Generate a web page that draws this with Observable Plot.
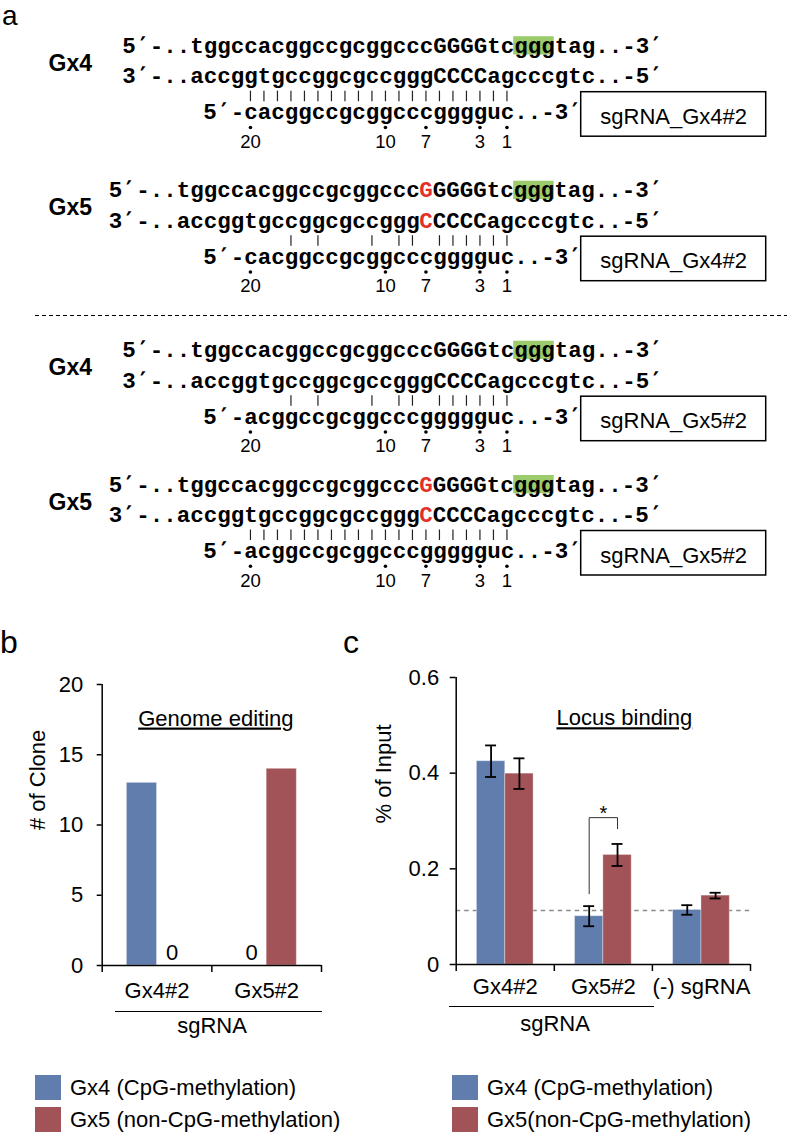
<!DOCTYPE html>
<html>
<head>
<meta charset="utf-8">
<script src="https://cdn.jsdelivr.net/npm/d3@7"></script>
<script src="https://cdn.jsdelivr.net/npm/@observablehq/plot@0.6"></script>
<style>
  @font-face { font-family: "SeqPrime"; font-weight: bold;
               src: local("DejaVu Sans Mono Bold"), local("DejaVuSansMono-Bold"); unicode-range: U+2032; }
  @font-face { font-family: "SeqPrime"; font-weight: normal;
               src: local("DejaVu Sans Mono"), local("DejaVuSansMono"); unicode-range: U+2032; }
  html, body { margin: 0; padding: 0; background: #fff; }
  #fig { position: relative; width: 787px; height: 1136px; overflow: hidden;
         font-family: "Liberation Sans", Arial, sans-serif; color: #000; background: #fff; }
  .abs { position: absolute; }
  .t { position: absolute; line-height: 0; white-space: nowrap; }
  .sw { position: absolute; width: 26px; height: 25px; }
  .hline { position: absolute; height: 0; border-top: 1.5px solid #000; }
</style>
</head>
<body>
<div id="fig"></div>
<script>
// ---------------- DATA ----------------
// Panel a: sequences
const targetNames = ["Gx4", "Gx5"];
const targetTop = ["5′-..tggccacggccgcggcccGGGGtcgggtag..-3′",
                   "5′-..tggccacggccgcggcccGGGGGtcgggtag..-3′"];
const targetBottom = ["3′-..accggtgccggcgccgggCCCCagcccgtc..-5′",
                      "3′-..accggtgccggcgccgggCCCCCagcccgtc..-5′"];
const variantIndex = [null, 23];          // red (variant) base in each target
const pamSeq = "ggg";
const sgNames = ["sgRNA_Gx4#2", "sgRNA_Gx5#2"];
const sgSeqs = ["cacggccgcggcccgggguc", "acggccgcggcccggggguc"];
const sgPositions = [20, 10, 7, 3, 1];
const panelAPairs = [[0, 0], [1, 0], [0, 1], [1, 1]]; // [target, sgRNA]

// Panel b: genome editing
const editGroups = ["Gx4#2", "Gx5#2"];
const editGx4 = [13, 0];
const editGx5 = [0, 14];

// Panel c: locus binding
const bindGroups = ["Gx4#2", "Gx5#2", "(-) sgRNA"];
const bindGx4 = [0.425, 0.101, 0.114];
const bindGx4Err = [0.033, 0.021, 0.010];
const bindGx5 = [0.399, 0.229, 0.144];
const bindGx5Err = [0.032, 0.023, 0.006];
const bindBackground = 0.113;
const sigGroup = 1;
const sigBracket = {top: 0.307, leftFrom: 0.148, rightFrom: 0.284, star: 0.316};

const seriesLegendB = ["Gx4 (CpG-methylation)", "Gx5 (non-CpG-methylation)"];
const seriesLegendC = ["Gx4 (CpG-methylation)", "Gx5(non-CpG-methylation)"];

// ---------------- STYLE / LAYOUT ----------------
const C_BLUE = "#607dae", C_RED = "#a15357", C_GREEN = "#9ccb6c", C_VAR = "#e2312a";
const SANS = "Liberation Sans, Arial, Helvetica, sans-serif";
const MONO = "SeqPrime, Liberation Mono, Courier New, monospace";
const X0 = 121.7, CH = 13.5, pamCol = 29;
const blockTop = [52.2, 196.7, 356.7, 491];
const L = {bottom: 30.5, sg: 66.3, bar1: 38.5, bar2: 49, dot: 74.8, num: 95, label: 18,
           box1: 39.5, box2: 84, boxText: 71, hl1: -16, hl2: 2.3};
const boxRightPx = 765.7, labelLeftPx = 48, dividerY = 315, dividerLeftPx = 35;
const H_A = 612;
const col = p => (p - X0) / CH;

const fig = document.getElementById("fig");

// ---------------- PANEL A ----------------
const segs = [], redSegs = [], hl = [], bars = [], dots = [], nums = [], labels = [], boxes = [];
panelAPairs.forEach(([t, s], b) => {
  const base = blockTop[b];
  const start = pamCol - targetTop[t].indexOf(pamSeq);
  [[targetTop[t], base], [targetBottom[t], base + L.bottom]].forEach(([str, y]) => {
    const vi = variantIndex[t];
    if (vi == null) segs.push({text: str, c: start, y});
    else {
      segs.push({text: str.slice(0, vi), c: start, y});
      redSegs.push({text: str[vi], c: start + vi, y});
      segs.push({text: str.slice(vi + 1), c: start + vi + 1, y});
    }
  });
  hl.push({c: pamCol, y: base});
  const sg = sgSeqs[s];
  const sgLine = "5′-" + sg + "..-3′";
  const sgStart = pamCol - sg.length - 3;
  segs.push({text: sgLine, c: sgStart, y: base + L.sg});
  for (let k = 0; k < sg.length; k++) {
    const c = pamCol - sg.length + k;
    const tc = targetTop[t][c - start].toLowerCase();
    const sc = sg[k].replace("u", "t");
    if (tc === sc) bars.push({c, y: base});
  }
  sgPositions.forEach(p => {
    dots.push({c: pamCol - p, y: base});
    nums.push({c: pamCol - p, y: base, text: String(p)});
  });
  labels.push({text: targetNames[t], y: base});
  boxes.push({text: sgNames[s], y: base, c1: sgStart + sgLine.length, c2: col(boxRightPx)});
});

const plotA = Plot.plot({
  width: 787, height: H_A, margin: 0,
  x: {domain: [col(0), col(787)], range: [0, 787], axis: null},
  y: {domain: [0, H_A], range: [0, H_A], axis: null},
  style: {fontFamily: SANS, background: "transparent", overflow: "visible"},
  marks: [
    Plot.rect(hl, {x1: "c", x2: d => d.c + pamSeq.length, y1: d => d.y + L.hl1, y2: d => d.y + L.hl2, fill: C_GREEN}),
    Plot.text(segs, {x: "c", y: "y", text: "text", textAnchor: "start", lineAnchor: "bottom",
                     fontFamily: MONO, fontWeight: "bold", fontSize: 22.5, fill: "black"}),
    Plot.text(redSegs, {x: "c", y: "y", text: "text", textAnchor: "start", lineAnchor: "bottom",
                        fontFamily: MONO, fontWeight: "bold", fontSize: 22.5, fill: C_VAR}),
    Plot.ruleX(bars, {x: d => d.c + 0.5, y1: d => d.y + L.bar1, y2: d => d.y + L.bar2, stroke: "#222", strokeWidth: 1.2}),
    Plot.dot(dots, {x: d => d.c + 0.5, y: d => d.y + L.dot, r: 1.8, fill: "black", stroke: null}),
    Plot.text(nums, {x: d => d.c + 0.5, y: d => d.y + L.num, text: "text", lineAnchor: "bottom", fontSize: 18.5, fontFamily: SANS}),
    Plot.text(labels, {x: col(labelLeftPx), y: d => d.y + L.label, text: "text", textAnchor: "start", lineAnchor: "bottom",
                       fontSize: 23, fontWeight: "bold", fontFamily: SANS}),
    Plot.rect(boxes, {x1: "c1", x2: "c2", y1: d => d.y + L.box1, y2: d => d.y + L.box2, fill: "none", stroke: "black", strokeWidth: 1.5}),
    Plot.text(boxes, {x: d => (d.c1 + d.c2) / 2, y: d => d.y + L.boxText, text: "text", lineAnchor: "bottom", fontSize: 22, fontFamily: SANS}),
    Plot.ruleY([dividerY], {x1: col(dividerLeftPx), x2: col(787), stroke: "black", strokeWidth: 1.2, strokeDasharray: "4,3"})
  ]
});
const divA = document.createElement("div");
divA.className = "abs"; divA.style.left = "0px"; divA.style.top = "0px";
divA.appendChild(plotA); fig.appendChild(divA);

// ---------------- PANEL B ----------------
const bwB = 0.275;
const editData = [];
editGroups.forEach((g, i) => {
  editData.push({g: i, s: 0, v: editGx4[i]});
  editData.push({g: i, s: 1, v: editGx5[i]});
});
const x1B = d => d.g + 0.5 + (d.s === 0 ? -bwB : 0);
const axisStyle = {fontFamily: SANS, fontSize: "22px", background: "transparent", overflow: "visible", color: "black"};

const plotB = Plot.plot({
  width: 370, height: 385, marginLeft: 101.7, marginRight: 49, marginTop: 64, marginBottom: 40,
  x: {domain: [0, editGroups.length], axis: null},
  y: {domain: [0, 20], axis: null},
  color: {type: "ordinal", domain: [0, 1], range: [C_BLUE, C_RED]},
  style: axisStyle,
  marks: [
    Plot.rect(editData.filter(d => d.v > 0), {x1: x1B, x2: d => x1B(d) + bwB, y1: 0, y2: "v", fill: "s",
                                               stroke: "white", strokeOpacity: 0.35, strokeWidth: 1}),
    Plot.text(editData.filter(d => d.v === 0), {x: d => x1B(d) + bwB / 2, y: 0, dy: -13, text: d => String(d.v), lineAnchor: "middle"}),
    Plot.ruleX([0], {strokeWidth: 1.5}),
    Plot.ruleY([0], {strokeWidth: 1.5}),
    Plot.axisY({ticks: [0, 5, 10, 15, 20], tickSize: 5, tickPadding: 14, strokeWidth: 1.5, tickFormat: d => String(d), label: null}),
    Plot.axisX({ticks: d3.range(editGroups.length + 1), tickSize: 7, tickFormat: () => "", strokeWidth: 1.5, label: null}),
    Plot.text(editGroups, {x: (d, i) => i + 0.5, y: 0, dy: 25, lineAnchor: "middle"}),
    Plot.text(["Genome editing"], {frameAnchor: "top", dx: 4, dy: 34, lineAnchor: "middle"}),
    Plot.text(["# of Clone"], {frameAnchor: "left", rotate: -90, dx: -64.7, dy: 5, lineAnchor: "middle"})
  ]
});
d3.select(plotB).selectAll("text").filter(function () { return this.textContent === "Genome editing"; })
  .style("text-decoration", "underline");
const divB = document.createElement("div");
divB.className = "abs"; divB.style.left = "0px"; divB.style.top = "620px";
divB.appendChild(plotB); fig.appendChild(divB);

// ---------------- PANEL C ----------------
const bwC = 0.289, capHalf = 0.056;
const bindData = [];
bindGroups.forEach((g, i) => {
  bindData.push({g: i, s: 0, v: bindGx4[i], e: bindGx4Err[i]});
  bindData.push({g: i, s: 1, v: bindGx5[i], e: bindGx5Err[i]});
});
const x1C = d => d.g + 0.5 + (d.s === 0 ? -bwC : 0);
const cxC = d => x1C(d) + bwC / 2;
const bxL = sigGroup + 0.5 - bwC / 2, bxR = sigGroup + 0.5 + bwC / 2;
const bracket = [
  {x: bxL, y: sigBracket.leftFrom}, {x: bxL, y: sigBracket.top},
  {x: bxR, y: sigBracket.top}, {x: bxR, y: sigBracket.rightFrom}
];

const plotC = Plot.plot({
  width: 417, height: 385, marginLeft: 85.7, marginRight: 37, marginTop: 57, marginBottom: 41,
  x: {domain: [0, bindGroups.length], axis: null},
  y: {domain: [0, 0.6], axis: null},
  color: {type: "ordinal", domain: [0, 1], range: [C_BLUE, C_RED]},
  style: axisStyle,
  marks: [
    Plot.ruleY([bindBackground], {stroke: "#8a8a8a", strokeWidth: 1.4, strokeDasharray: "4.5,4"}),
    Plot.rect(bindData, {x1: x1C, x2: d => x1C(d) + bwC, y1: 0, y2: "v", fill: "s",
                         stroke: "white", strokeOpacity: 0.35, strokeWidth: 1}),
    Plot.ruleX(bindData, {x: cxC, y1: d => d.v - d.e, y2: d => d.v + d.e, strokeWidth: 1.8}),
    Plot.ruleY(bindData, {y: d => d.v + d.e, x1: d => cxC(d) - capHalf, x2: d => cxC(d) + capHalf, strokeWidth: 1.8}),
    Plot.ruleY(bindData, {y: d => d.v - d.e, x1: d => cxC(d) - capHalf, x2: d => cxC(d) + capHalf, strokeWidth: 1.8}),
    Plot.line(bracket, {x: "x", y: "y", stroke: "#333", strokeWidth: 1}),
    Plot.text(["*"], {x: sigGroup + 0.5, y: sigBracket.star, lineAnchor: "middle", fontSize: 20}),
    Plot.ruleX([0], {strokeWidth: 1.5}),
    Plot.ruleY([0], {strokeWidth: 1.5}),
    Plot.axisY({ticks: [0, 0.2, 0.4, 0.6], tickSize: 6, tickPadding: 11, strokeWidth: 1.5,
                tickFormat: d => d === 0 ? "0" : d.toFixed(1), label: null}),
    Plot.axisX({ticks: d3.range(bindGroups.length + 1), tickSize: 7, tickFormat: () => "", strokeWidth: 1.5, label: null}),
    Plot.text(bindGroups, {x: (d, i) => i + 0.5, y: 0, dy: 22, lineAnchor: "middle"}),
    Plot.text(["Locus binding"], {frameAnchor: "top", dx: 21, dy: 40.7, lineAnchor: "middle"}),
    Plot.text(["% of Input"], {frameAnchor: "left", rotate: -90, dx: -72.7, dy: 2.5, lineAnchor: "middle"})
  ]
});
d3.select(plotC).selectAll("text").filter(function () { return this.textContent === "Locus binding"; })
  .style("text-decoration", "underline");
const divC = document.createElement("div");
divC.className = "abs"; divC.style.left = "370px"; divC.style.top = "620px";
divC.appendChild(plotC); fig.appendChild(divC);

// ---------------- HTML annotations (panel letters, group brackets, legends) ----------------
function placeText(text, x, baseline, fs, align) {
  const el = document.createElement("div");
  el.className = "t";
  el.textContent = text;
  el.style.fontSize = fs + "px";
  el.style.top = (baseline - 0.3465 * fs) + "px";
  el.style.left = x + "px";
  if (align === "center") el.style.transform = "translateX(-50%)";
  fig.appendChild(el);
  return el;
}
function hline(x1, x2, y) {
  const el = document.createElement("div");
  el.className = "hline";
  el.style.left = x1 + "px"; el.style.width = (x2 - x1) + "px"; el.style.top = (y - 0.75) + "px";
  fig.appendChild(el);
}
function swatch(x, y, color) {
  const el = document.createElement("div");
  el.className = "sw"; el.style.left = x + "px"; el.style.top = y + "px"; el.style.background = color;
  fig.appendChild(el);
}

placeText("a", 2, 26, 28);
placeText("b", 0, 653, 32);
placeText("c", 343, 653, 32);

hline(115, 322, 1012); placeText("sgRNA", 212, 1034, 22, "center");
hline(449, 654, 1007); placeText("sgRNA", 555, 1032, 22, "center");

[C_BLUE, C_RED].forEach((c, i) => {
  swatch(35, 1075 + i * 32, c);
  placeText(seriesLegendB[i], 70, 1096 + i * 32, 22);
  swatch(452, 1075 + i * 32, c);
  placeText(seriesLegendC[i], 487, 1096 + i * 32, 22);
});
</script>
</body>
</html>
